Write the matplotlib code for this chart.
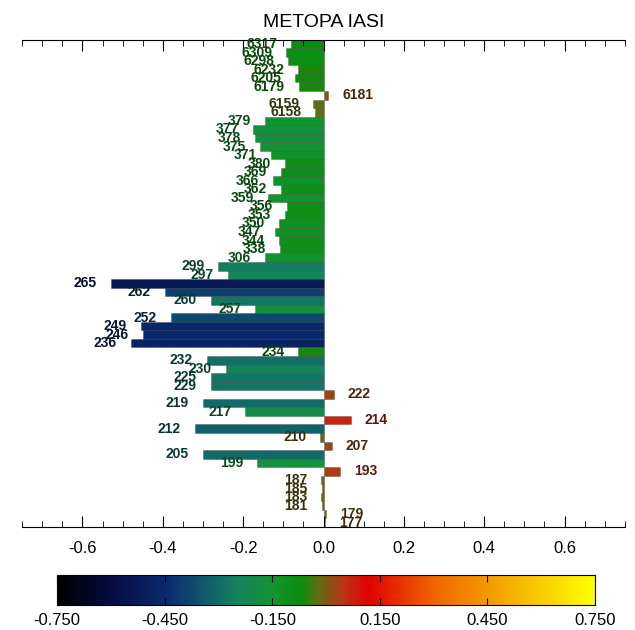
import matplotlib
matplotlib.use("Agg")
import matplotlib.pyplot as plt
import numpy as np
from matplotlib.colors import LinearSegmentedColormap, Normalize, to_rgb
from matplotlib.ticker import MultipleLocator, FormatStrFormatter
from matplotlib.cm import ScalarMappable

plt.rcParams['font.family'] = ['Liberation Sans', 'DejaVu Sans']

# channel labels, top to bottom
channels = ['6317', '6309', '6298', '6232', '6205', '6179', '6181', '6159', '6158',
            '379', '377', '378', '375', '371', '380', '369', '366', '362', '359',
            '356', '353', '350', '347', '344', '338', '306', '299', '297',
            '265', '262', '260', '257', '252', '249', '246', '236', '234', '232',
            '230', '225', '229',
            '222', '219', '217', '214', '212', '210', '207', '205', '199', '193',
            '187', '185', '183', '181', '179', '177']

# impact values
impact = [-0.080, -0.093, -0.088, -0.063, -0.070, -0.062, 0.012, -0.025, -0.020,
          -0.145, -0.175, -0.170, -0.158, -0.130, -0.095, -0.105, -0.125, -0.105, -0.138,
          -0.090, -0.095, -0.112, -0.120, -0.110, -0.108, -0.145, -0.262, -0.238,
          -0.530, -0.395, -0.280, -0.170, -0.380, -0.455, -0.450, -0.480, -0.063, -0.290,
          -0.243, -0.280, -0.280,
          0.025, -0.300, -0.195, 0.068, -0.320, -0.008, 0.020, -0.300, -0.165, 0.040,
          -0.006, -0.005, -0.006, -0.004, 0.006, 0.004]

cbar_ticks = [-0.75, -0.45, -0.15, 0.15, 0.45, 0.75]

# colour table close to the IDL one in the picture
stops = [(-0.75, (0, 0, 0)), (-0.60, (5, 12, 65)), (-0.45, (10, 40, 110)),
         (-0.35, (15, 85, 110)), (-0.25, (20, 130, 95)), (-0.15, (20, 148, 50)),
         (-0.07, (10, 140, 10)), (-0.02, (100, 110, 20)), (0.0, (120, 90, 20)),
         (0.05, (190, 50, 20)), (0.12, (225, 0, 0)), (0.30, (240, 100, 0)),
         (0.50, (245, 170, 0)), (0.75, (255, 255, 0))]
cmap = LinearSegmentedColormap.from_list(
    'idl', [((v + 0.75) / 1.5, tuple(c / 255 for c in col)) for v, col in stops])
norm = Normalize(-0.75, 0.75)

fig = plt.figure(figsize=(6.35, 6.3), dpi=100)
ax = fig.add_axes([0.035, 0.1635, 0.949, 0.7735])

n = len(channels)
ypos = np.arange(n)
colors = [cmap(norm(v)) for v in impact]
ax.barh(ypos, impact, height=1.0, color=colors, edgecolor=(0, 0, 0, 0.3), linewidth=0.5)

off = 0.035
for y, v, lab, c in zip(ypos, impact, channels, colors):
    dark = tuple(0.5 * x for x in to_rgb(c))
    if v < 0:
        ax.text(v - off, y, lab, ha='right', va='center', fontsize=10,
                fontweight='bold', color=dark)
    else:
        ax.text(v + off, y, lab, ha='left', va='center', fontsize=10,
                fontweight='bold', color=dark)

ax.set_xlim(-0.75, 0.75)
ax.set_ylim(n - 0.5, -0.5)
ax.set_yticks([])
ax.spines['left'].set_visible(False)
ax.spines['right'].set_visible(False)
ax.xaxis.set_major_locator(MultipleLocator(0.2))
ax.xaxis.set_minor_locator(MultipleLocator(0.05))
ax.xaxis.set_major_formatter(FormatStrFormatter('%.1f'))
ax.tick_params(axis='x', which='both', direction='in', top=True, bottom=True,
               labelsize=12, pad=10)
ax.tick_params(axis='x', which='major', length=8)
ax.tick_params(axis='x', which='minor', length=4)
ax.set_title('METOPA IASI', fontsize=14, pad=9)

cax = fig.add_axes([0.09, 0.04, 0.847, 0.048])
cb = fig.colorbar(ScalarMappable(norm=norm, cmap=cmap), cax=cax,
                  orientation='horizontal', ticks=cbar_ticks, format='%.3f')
cb.ax.tick_params(direction='in', length=5, top=True, labelsize=12, pad=6)
cb.outline.set_linewidth(0.8)

fig.savefig('out.png', dpi=100)
